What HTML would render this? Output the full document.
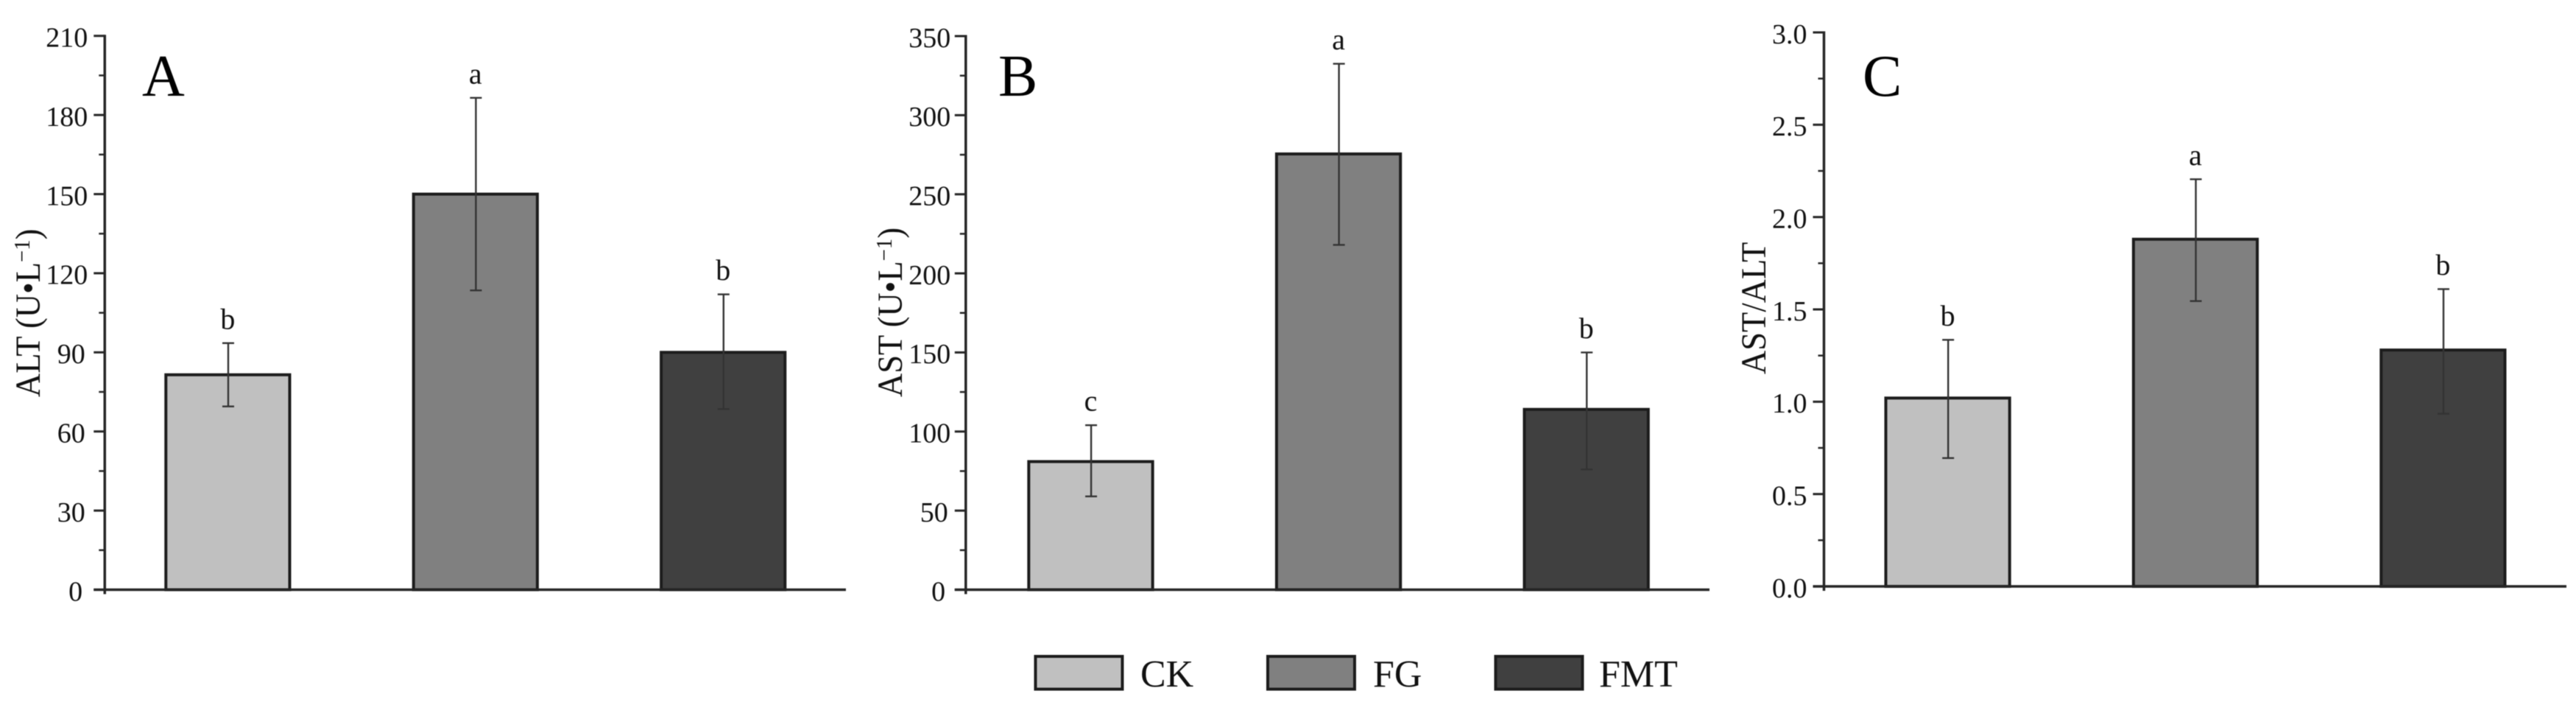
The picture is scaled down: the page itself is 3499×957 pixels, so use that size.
<!DOCTYPE html>
<html lang="en">
<head>
<meta charset="utf-8">
<title>ALT, AST and AST/ALT bar charts</title>
<style>
html,body{margin:0;padding:0;background:#fff;}
body{width:3499px;height:957px;overflow:hidden;}
svg{display:block;filter:blur(0.6px);}
text{font-family:"Liberation Serif","Times New Roman",serif;fill:#111;}
</style>
</head>
<body>
<svg id="chart" xmlns="http://www.w3.org/2000/svg" width="3499" height="957" viewBox="0 0 3499 957">
  <rect x="0" y="0" width="3499" height="957" fill="#ffffff"/>
  <g id="panels"></g>
  <g>
    <g>
      <rect x="1406.5" y="891" width="118" height="44.5" fill="#c0c0c0" stroke="#1c1c1c" stroke-width="4"/>
      <text x="1549" y="932" font-size="52">CK</text>
    </g>
    <g>
      <rect x="1722" y="891" width="118" height="44.5" fill="#808080" stroke="#1c1c1c" stroke-width="4"/>
      <text x="1865" y="932" font-size="52">FG</text>
    </g>
    <g>
      <rect x="2031.5" y="891" width="118" height="44.5" fill="#404040" stroke="#1c1c1c" stroke-width="4"/>
      <text x="2172" y="932" font-size="52">FMT</text>
    </g>
  </g>
</svg>
<script>
// ---- chart data ----
const categories = ['CK', 'FG', 'FMT'];
const barColors = ['#c0c0c0', '#808080', '#404040'];

const altTicks = ['0', '30', '60', '90', '120', '150', '180', '210'];
const altValues = [81.5, 150, 90];
const altErrHigh = [93.5, 186.5, 112];
const altErrLow = [69.5, 113.5, 68.5];
const altLetters = ['b', 'a', 'b'];

const astTicks = ['0', '50', '100', '150', '200', '250', '300', '350'];
const astValues = [81, 275.5, 114];
const astErrHigh = [104, 332.5, 150];
const astErrLow = [59, 218, 76];
const astLetters = ['c', 'a', 'b'];

const ratioTicks = ['0.0', '0.5', '1.0', '1.5', '2.0', '2.5', '3.0'];
const ratioValues = [1.02, 1.88, 1.28];
const ratioErrHigh = [1.335, 2.205, 1.61];
const ratioErrLow = [0.695, 1.545, 0.935];
const ratioLetters = ['b', 'a', 'b'];

// ---- layout ----
const SVGNS = 'http://www.w3.org/2000/svg';
const root = document.getElementById('panels');

function make(tag, parent, attrs, text) {
  const el = document.createElementNS(SVGNS, tag);
  for (const k in attrs) el.setAttribute(k, attrs[k]);
  if (text !== undefined) el.textContent = text;
  parent.appendChild(el);
  return el;
}

function drawPanel(p) {
  const tickNums = p.ticks.map(Number);
  const yMin = tickNums[0];
  const yMax = tickNums[tickNums.length - 1];
  const yScale = v => p.bottom - (v - yMin) / (yMax - yMin) * (p.bottom - p.top);
  const xScale = i => p.firstCenter + i * p.step;
  const barWidth = p.step / 2;
  const ink = '#262626';

  const g = make('g', root, {});
  
  

  // bars
  p.values.forEach((v, i) => {
    const bar = make('rect', g, {
      x: xScale(i) - barWidth / 2,
      y: yScale(v),
      width: barWidth,
      height: yScale(yMin) - yScale(v),
      fill: barColors[i],
      stroke: '#1c1c1c',
      'stroke-width': 4
    });
    
    
  });

  // error bars
  p.errHigh.forEach((hi, i) => {
    const lo = p.errLow[i];
    const cx = xScale(i) + 0.6;
    const eg = make('g', g, {stroke: '#333', 'stroke-width': 2.4, fill: 'none'});
    
    
    make('line', eg, {x1: cx, x2: cx, y1: yScale(hi), y2: yScale(lo)});
    make('line', eg, {x1: cx - 8, x2: cx + 8, y1: yScale(hi), y2: yScale(hi)});
    make('line', eg, {x1: cx - 8, x2: cx + 8, y1: yScale(lo), y2: yScale(lo)});
  });

  // significance letters
  p.letters.forEach((s, i) => {
    const t = make('text', g, {
      x: xScale(i),
      y: yScale(p.errHigh[i]) - p.letterGap,
      'font-size': 40,
      'text-anchor': 'middle'
    }, s);
    
    
  });

  // y axis
  const yAxis = make('line', g, {x1: p.axisX, x2: p.axisX, y1: p.top - 1.5, y2: p.bottom + 6, stroke: ink, 'stroke-width': 3.5});
  
  

  // x axis
  const xAxis = make('line', g, {x1: p.axisX - 15, x2: p.xEnd, y1: p.bottom, y2: p.bottom, stroke: ink, 'stroke-width': 3.5});
  
  

  // ticks & labels
  p.ticks.forEach((label, i) => {
    const v = tickNums[i];
    const y = yScale(v);
    const tick = make('line', g, {x1: p.axisX - 15, x2: p.axisX, y1: y, y2: y, stroke: ink, 'stroke-width': 3});
    
    
    const txt = make('text', g, {
      x: p.axisX - p.labelGap - (3 - label.length) * 3.6,
      y: y + 14.8,
      'font-size': 38,
      'text-anchor': 'end'
    }, label);
    
    
    if (i < p.ticks.length - 1) {
      const my = yScale((v + tickNums[i + 1]) / 2);
      const minor = make('line', g, {x1: p.axisX - 8, x2: p.axisX, y1: my, y2: my, stroke: ink, 'stroke-width': 2.5});
      
      
    }
  });

  // panel letter
  const pl = make('text', g, {x: p.letterX, y: 130, 'font-size': 80, style: 'fill:#000'}, p.key.toUpperCase());
  
  

  // y axis title
  const title = make('text', g, {
    transform: 'translate(' + p.titleX + ',' + p.titleY + ') rotate(-90) scale(0.93,1)',
    'font-size': 48
  });
  
  
  if (p.unit) {
    make('tspan', title, {}, p.title + ' (U•L');
    make('tspan', title, {dy: -14, 'font-size': 31}, '−1');
    make('tspan', title, {dy: 14}, ')');
  } else {
    title.textContent = p.title;
  }
}

drawPanel({
  key: 'a', title: 'ALT', unit: true, ticks: altTicks,
  values: altValues, errHigh: altErrHigh, errLow: altErrLow, letters: altLetters,
  axisX: 142.3, top: 48.7, bottom: 800.5, xEnd: 1149,
  firstCenter: 309.4, step: 336.4, labelGap: 23, letterX: 193, letterGap: 19.5,
  titleX: 54, titleY: 539
});
drawPanel({
  key: 'b', title: 'AST', unit: true, ticks: astTicks,
  values: astValues, errHigh: astErrHigh, errLow: astErrLow, letters: astLetters,
  axisX: 1311.8, top: 49, bottom: 800.5, xEnd: 2322,
  firstCenter: 1481.5, step: 336.6, labelGap: 20.5, letterX: 1356, letterGap: 19.5,
  titleX: 1225, titleY: 539
});
drawPanel({
  key: 'c', title: 'AST/ALT', unit: false, ticks: ratioTicks,
  values: ratioValues, errHigh: ratioErrHigh, errLow: ratioErrLow, letters: ratioLetters,
  axisX: 2477.5, top: 44, bottom: 796, xEnd: 3486,
  firstCenter: 2645.6, step: 336.4, labelGap: 23, letterX: 2530, letterGap: 19.5,
  titleX: 2398, titleY: 508
});
</script>
</body>
</html>
